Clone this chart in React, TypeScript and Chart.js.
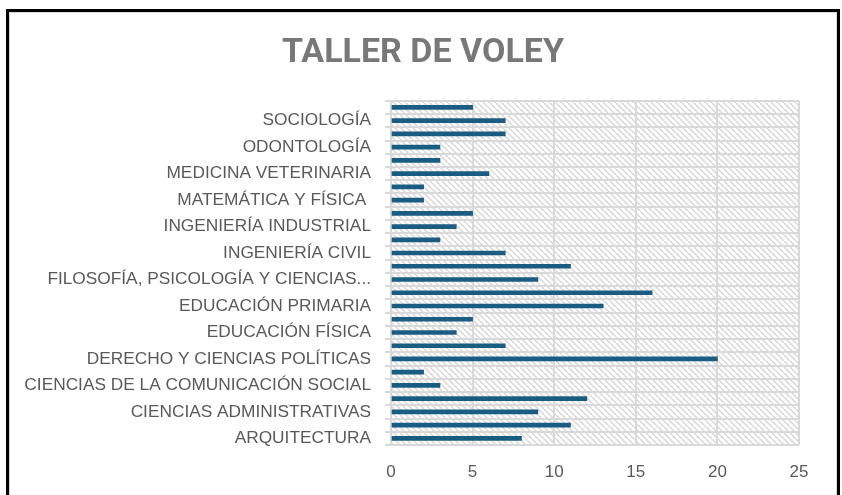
import React, { useEffect, useRef } from "react";
import { Chart, registerables } from "chart.js";

Chart.register(...registerables);

// Categories from bottom (first) to top (last); unlabeled rows are not shown in the source.
const categories: string[] = [
  "ARQUITECTURA",
  "",
  "CIENCIAS ADMINISTRATIVAS",
  "",
  "CIENCIAS DE LA COMUNICACIÓN SOCIAL",
  "",
  "DERECHO Y CIENCIAS POLÍTICAS",
  "",
  "EDUCACIÓN FÍSICA",
  "",
  "EDUCACIÓN PRIMARIA",
  "",
  "FILOSOFÍA, PSICOLOGÍA Y CIENCIAS...",
  "",
  "INGENIERÍA CIVIL",
  "",
  "INGENIERÍA INDUSTRIAL",
  "",
  "MATEMÁTICA Y FÍSICA ",
  "",
  "MEDICINA VETERINARIA",
  "",
  "ODONTOLOGÍA",
  "",
  "SOCIOLOGÍA",
  "",
];

const values: number[] = [8, 11, 9, 12, 3, 2, 20, 7, 4, 5, 13, 16, 9, 11, 7, 3, 4, 5, 2, 2, 6, 3, 3, 7, 7, 5];

const xTicks: number[] = [0, 5, 10, 15, 20, 25];

const TITLE = "TALLER DE VOLEY";
const TITLE_FONT = { family: "Roboto", size: 34, weight: "bold" };
const TITLE_PAD = { top: 20, bottom: 27 };

function makeHatch(): CanvasPattern | string {
  const c = document.createElement("canvas");
  const s = 6;
  c.width = s;
  c.height = s;
  const g = c.getContext("2d");
  if (!g) return "#f2f2f2";
  g.fillStyle = "#ffffff";
  g.fillRect(0, 0, s, s);
  g.strokeStyle = "#d6d6d6";
  g.lineWidth = 1.4;
  for (const k of [-s, 0, s]) {
    g.beginPath();
    g.moveTo(k, 0);
    g.lineTo(k + s, s);
    g.stroke();
  }
  const p = g.createPattern(c, "repeat");
  return p || "#f2f2f2";
}

export default function App() {
  const ref = useRef<HTMLCanvasElement | null>(null);

  useEffect(() => {
    if (!ref.current) return;
    const hatch = makeHatch();
    const hatchPlugin = {
      id: "hatchBg",
      beforeDraw(chart: any) {
        const { ctx, chartArea } = chart;
        if (!chartArea) return;
        ctx.save();
        ctx.fillStyle = hatch as any;
        ctx.fillRect(chartArea.left, chartArea.top, chartArea.right - chartArea.left, chartArea.bottom - chartArea.top);
        ctx.restore();
      },
    };
    // Title centred on the whole chart object (as in the spreadsheet), using the space the title plugin reserves.
    const centredTitle = {
      id: "centredTitle",
      afterDraw(chart: any) {
        const tb = chart.titleBlock;
        if (!tb) return;
        const ctx = chart.ctx;
        ctx.save();
        ctx.font = `${TITLE_FONT.weight} ${TITLE_FONT.size}px ${TITLE_FONT.family}`;
        ctx.fillStyle = "#787878";
        ctx.textAlign = "center";
        ctx.textBaseline = "middle";
        ctx.fillText(TITLE, chart.width / 2, tb.top + TITLE_PAD.top + (TITLE_FONT.size * 1.2) / 2);
        ctx.restore();
      },
    };
    const chart = new Chart(ref.current, {
      type: "bar",
      data: {
        labels: categories,
        datasets: [
          {
            label: "Participantes",
            data: values,
            backgroundColor: "#1b5d82",
            borderWidth: 0,
            barThickness: 4,
          },
        ],
      },
      plugins: [hatchPlugin, centredTitle],
      options: {
        indexAxis: "y",
        animation: false,
        responsive: false,
        maintainAspectRatio: false,
        layout: { padding: { left: 0, right: 37, top: 0, bottom: 13 } },
        plugins: {
          legend: { display: false },
          tooltip: { enabled: false },
          title: {
            display: true,
            text: TITLE,
            color: "rgba(0,0,0,0)",
            font: TITLE_FONT,
            padding: TITLE_PAD,
          },
        },
        scales: {
          x: {
            min: 0,
            max: 25,
            afterBuildTicks(scale: any) {
              scale.ticks = xTicks.map((v) => ({ value: v }));
            },
            grid: { color: "#d9d9d9", lineWidth: 2, drawTicks: false },
            border: { display: false },
            ticks: {
              color: "#595959",
              font: { family: "Liberation Sans", size: 17 },
              padding: 17,
            },
            afterFit(scale: any) {
              scale.height = 37;
            },
          },
          y: {
            reverse: true,
            grid: { color: "#d9d9d9", lineWidth: 2, tickLength: 6, offset: true },
            border: { color: "#d9d9d9", width: 2 },
            ticks: {
              autoSkip: false,
              color: "#595959",
              font: { family: "Liberation Sans", size: 17.3 },
              padding: 14,
            },
            afterFit(scale: any) {
              scale.width = 381;
            },
          },
        },
      },
    } as any);
    return () => chart.destroy();
  }, []);

  return (
    <div style={{ position: "fixed", left: 0, top: 0, width: 842, height: 495, overflow: "hidden", background: "#fff" }}>
      <div
        style={{
          position: "absolute",
          left: 6,
          top: 9,
          width: 834,
          height: 600,
          border: "3px solid #000",
          boxSizing: "border-box",
        }}
      >
        <div style={{ position: "absolute", left: 0, top: 0, right: 0, bottom: 0, border: "1px solid #d9d9d9" }} />
      </div>
      <canvas ref={ref} width={826} height={482} style={{ position: "absolute", left: 10, top: 13, width: 826, height: 482 }} />
    </div>
  );
}
